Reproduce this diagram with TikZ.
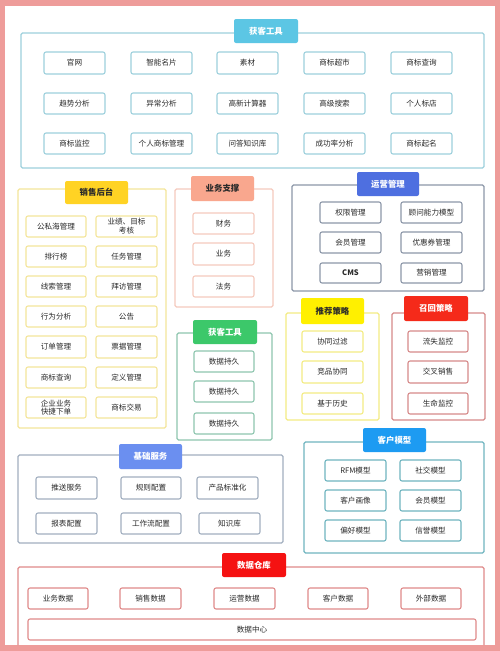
\documentclass[tikz,border=0pt]{standalone}
\usepackage{fontspec}
\setmainfont{Noto Sans CJK SC}
\definecolor{frame}{HTML}{EE9C9A}
\definecolor{txt}{HTML}{2A2A2A}
\definecolor{cyanB}{HTML}{9DD0DC}\definecolor{cyanT}{HTML}{5CC6E4}
\definecolor{goldB}{HTML}{F4E59A}\definecolor{goldT}{HTML}{FFD324}
\definecolor{salB}{HTML}{F5CABD}\definecolor{salT}{HTML}{F9A78E}
\definecolor{grnB}{HTML}{8EC6AF}\definecolor{grnT}{HTML}{3CC86A}
\definecolor{opsB}{HTML}{8C97A8}\definecolor{opsT}{HTML}{4E6FE0}
\definecolor{yelB}{HTML}{F3EC84}\definecolor{yelT}{HTML}{FFF000}
\definecolor{recB}{HTML}{D68A8A}\definecolor{recT}{HTML}{F52A1A}
\definecolor{basB}{HTML}{A2AFC0}\definecolor{basT}{HTML}{6B8FF0}
\definecolor{cusB}{HTML}{6FB5BF}\definecolor{cusT}{HTML}{1D9BF2}
\definecolor{datB}{HTML}{E08A8A}\definecolor{datT}{HTML}{F51212}
\tikzset{
 grp/.style={draw=#1, line width=1.1pt, rounded corners=1.5pt, inner sep=0},
 ttl/.style={fill=#1, rounded corners=2pt, text=white, font=\fontsize{8.4}{9}\selectfont\bfseries, inner sep=0},
 ttd/.style={ttl=#1, text=txt},
 cel/.style={draw=#1, line width=1.1pt, fill=white, rounded corners=2pt, text=txt, font=\fontsize{7.6}{8.8}\selectfont, align=center, inner sep=0},
}
\newcommand\Bx[7]{\node[#2, minimum width={(#5-#3)*1pt}, minimum height={(#6-#4)*1pt}] (#1) at ({(#3+#5)/2},{(#4+#6)/2}) {#7};}
\begin{document}
\begin{tikzpicture}[x=1pt,y=-1pt]
\useasboundingbox (0,0) rectangle (500,651);
\fill[frame] (0,0) rectangle (500,651);
\fill[white] (5,6) rectangle (495,645);
% ---------- top: 获客工具
\Bx{gA}{grp=cyanB}{21}{33}{484}{168}{}
\Bx{tA}{ttl=cyanT}{234}{19}{298}{43}{获客工具}
\Bx{a1}{cel=cyanB}{44}{52}{105}{74}{官网}
\Bx{a2}{cel=cyanB}{131}{52}{192}{74}{智能名片}
\Bx{a3}{cel=cyanB}{217}{52}{278}{74}{素材}
\Bx{a4}{cel=cyanB}{304}{52}{365}{74}{商标超市}
\Bx{a5}{cel=cyanB}{391}{52}{452}{74}{商标查询}
\Bx{a6}{cel=cyanB}{44}{93}{105}{114}{趋势分析}
\Bx{a7}{cel=cyanB}{131}{93}{192}{114}{异常分析}
\Bx{a8}{cel=cyanB}{217}{93}{278}{114}{高新计算器}
\Bx{a9}{cel=cyanB}{304}{93}{365}{114}{高级搜索}
\Bx{a10}{cel=cyanB}{391}{93}{452}{114}{个人标店}
\Bx{a11}{cel=cyanB}{44}{133}{105}{154}{商标监控}
\Bx{a12}{cel=cyanB}{131}{133}{192}{154}{个人商标管理}
\Bx{a13}{cel=cyanB}{217}{133}{278}{154}{问答知识库}
\Bx{a14}{cel=cyanB}{304}{133}{365}{154}{成功率分析}
\Bx{a15}{cel=cyanB}{391}{133}{452}{154}{商标起名}
% ---------- 销售后台
\Bx{gS}{grp=goldB}{18}{189}{166}{428}{}
\Bx{tS}{ttd=goldT}{65}{181}{128}{204}{销售后台}
\Bx{s1}{cel=goldB}{26}{216}{86}{237}{公私海管理}
\Bx{s2}{cel=goldB}{96}{216}{157}{237}{业绩、目标\\考核}
\Bx{s3}{cel=goldB}{26}{246}{86}{267}{排行榜}
\Bx{s4}{cel=goldB}{96}{246}{157}{267}{任务管理}
\Bx{s5}{cel=goldB}{26}{276}{86}{297}{线索管理}
\Bx{s6}{cel=goldB}{96}{276}{157}{297}{拜访管理}
\Bx{s7}{cel=goldB}{26}{306}{86}{327}{行为分析}
\Bx{s8}{cel=goldB}{96}{306}{157}{327}{公告}
\Bx{s9}{cel=goldB}{26}{336}{86}{358}{订单管理}
\Bx{s10}{cel=goldB}{96}{336}{157}{358}{票据管理}
\Bx{s11}{cel=goldB}{26}{367}{86}{388}{商标查询}
\Bx{s12}{cel=goldB}{96}{367}{157}{388}{定义管理}
\Bx{s13}{cel=goldB}{26}{397}{86}{418}{企业业务\\快捷下单}
\Bx{s14}{cel=goldB}{96}{397}{157}{418}{商标交易}
% ---------- 业务支撑
\Bx{gY}{grp=salB}{175}{189}{273}{307}{}
\Bx{tY}{ttd=salT}{191}{176}{254}{201}{业务支撑}
\Bx{y1}{cel=salB}{193}{213}{254}{234}{财务}
\Bx{y2}{cel=salB}{193}{243}{254}{265}{业务}
\Bx{y3}{cel=salB}{193}{276}{254}{297}{法务}
% ---------- 获客工具 (green)
\Bx{gG}{grp=grnB}{177}{333}{272}{440}{}
\Bx{tG}{ttl=grnT}{193}{320}{257}{344}{获客工具}
\Bx{g1}{cel=grnB}{194}{351}{254}{372}{数据持久}
\Bx{g2}{cel=grnB}{194}{381}{254}{402}{数据持久}
\Bx{g3}{cel=grnB}{194}{413}{254}{434}{数据持久}
% ---------- 运营管理
\Bx{gO}{grp=opsB}{292}{185}{484}{291}{}
\Bx{tO}{ttl=opsT}{357}{172}{419}{196}{运营管理}
\Bx{o1}{cel=opsB}{320}{202}{381}{223}{权限管理}
\Bx{o2}{cel=opsB}{401}{202}{462}{223}{顾问能力模型}
\Bx{o3}{cel=opsB}{320}{232}{381}{253}{会员管理}
\Bx{o4}{cel=opsB}{401}{232}{462}{253}{优惠券管理}
\Bx{o5}{cel=opsB}{320}{263}{381}{283}{\bfseries CMS}
\Bx{o6}{cel=opsB}{401}{263}{462}{283}{营销管理}
% ---------- 推荐策略
\Bx{gT}{grp=yelB}{286}{313}{379}{420}{}
\Bx{tT}{ttd=yelT}{301}{298}{364}{324}{推荐策略}
\Bx{t1}{cel=yelB}{302}{331}{363}{352}{协同过滤}
\Bx{t2}{cel=yelB}{302}{361}{363}{383}{竞品协同}
\Bx{t3}{cel=yelB}{302}{393}{363}{414}{基于历史}
% ---------- 召回策略
\Bx{gR}{grp=recB}{392}{313}{485}{420}{}
\Bx{tR}{ttl=recT}{404}{296}{468}{321}{召回策略}
\Bx{r1}{cel=recB}{408}{331}{468}{352}{流失监控}
\Bx{r2}{cel=recB}{408}{361}{468}{383}{交叉销售}
\Bx{r3}{cel=recB}{408}{393}{468}{414}{生命监控}
% ---------- 基础服务
\Bx{gB}{grp=basB}{18}{455}{283}{543}{}
\Bx{tB}{ttl=basT}{119}{444}{182}{469}{基础服务}
\Bx{b1}{cel=basB}{36}{477}{97}{499}{推送服务}
\Bx{b2}{cel=basB}{121}{477}{181}{499}{规则配置}
\Bx{b3}{cel=basB}{197}{477}{258}{499}{产品标准化}
\Bx{b4}{cel=basB}{36}{513}{97}{534}{报表配置}
\Bx{b5}{cel=basB}{121}{513}{181}{534}{工作流配置}
\Bx{b6}{cel=basB}{199}{513}{260}{534}{知识库}
% ---------- 客户模型
\Bx{gC}{grp=cusB}{304}{442}{484}{553}{}
\Bx{tC}{ttl=cusT}{363}{428}{426}{452}{客户模型}
\Bx{c1}{cel=cusB}{325}{460}{386}{481}{RFM模型}
\Bx{c2}{cel=cusB}{400}{460}{461}{481}{社交模型}
\Bx{c3}{cel=cusB}{325}{490}{386}{511}{客户画像}
\Bx{c4}{cel=cusB}{400}{490}{461}{511}{会员模型}
\Bx{c5}{cel=cusB}{325}{520}{386}{541}{偏好模型}
\Bx{c6}{cel=cusB}{400}{520}{461}{541}{信誉模型}
% ---------- 数据仓库
\coordinate (dwBL) at (18,645);
\coordinate (dwTL) at (18,567);
\coordinate (dwTR) at (484,567);
\coordinate (dwBR) at (484,645);
\draw[datB, line width=1.1pt, rounded corners=1.5pt] (dwBL) -- (dwTL) -- (dwTR) -- (dwBR);
\Bx{tD}{ttl=datT}{222}{553}{286}{577}{数据仓库}
\Bx{d1}{cel=datB}{28}{588}{88}{609}{业务数据}
\Bx{d2}{cel=datB}{120}{588}{181}{609}{销售数据}
\Bx{d3}{cel=datB}{214}{588}{275}{609}{运营数据}
\Bx{d4}{cel=datB}{308}{588}{368}{609}{客户数据}
\Bx{d5}{cel=datB}{401}{588}{461}{609}{外部数据}
\Bx{d6}{cel=datB}{28}{619}{476}{640}{数据中心}
\end{tikzpicture}
\end{document}
